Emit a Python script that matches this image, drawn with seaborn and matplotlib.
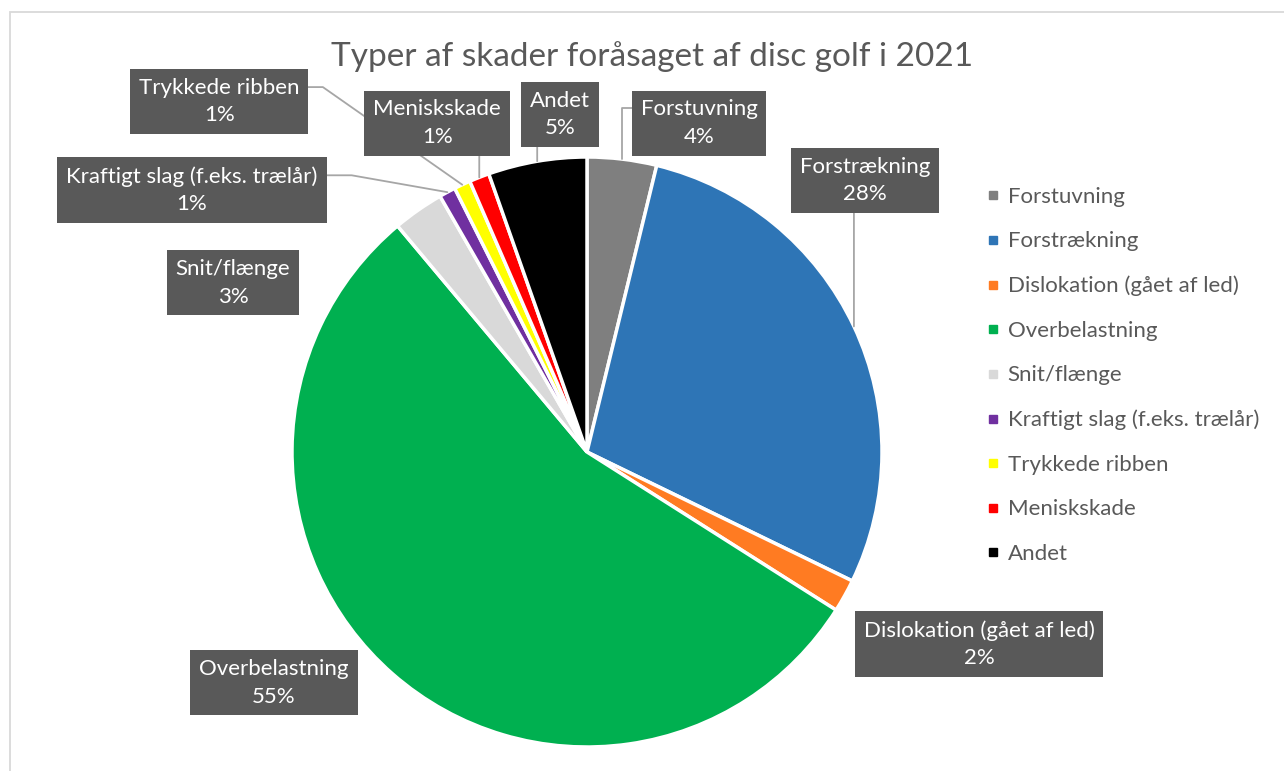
import matplotlib
matplotlib.use('Agg')
import matplotlib.pyplot as plt
from matplotlib.lines import Line2D
from matplotlib.patches import Rectangle
import numpy as np
import seaborn as sns

sns.set_theme(style='white')
plt.rcParams['font.family'] = ['Lato', 'DejaVu Sans']

# data
kategorier = ['Forstuvning', 'Forstrækning', 'Dislokation (gået af led)', 'Overbelastning',
              'Snit/flænge', 'Kraftigt slag (f.eks. trælår)', 'Trykkede ribben', 'Meniskskade', 'Andet']
andele = [3.8, 28.4, 1.8, 54.9, 2.8, 0.9, 0.9, 1.1, 5.4]
farver = ['#7F7F7F', '#2E75B6', '#FF7B22', '#00B050', '#D9D9D9',
          '#7030A0', '#FFFF00', '#FF0000', '#000000']
titel = 'Typer af skader foråsaget af disc golf i 2021'

# placering af etiketter (i pie-enheder, radius = 1) og type af hjælpestreg
label_pos = [(0.38, 1.115), (0.942, 0.919), (1.329, -0.651), (-1.061, -0.783), (-1.2, 0.573),
             (-1.339, 0.888), (-1.247, 1.187), (-0.508, 1.115), (-0.092, 1.143)]
leader = ['elbow', 'down', None, None, None, 'side', 'side', 'down', 'down']

tekst = '#595959'
streg = '#A6A6A6'
palette = sns.color_palette(farver)

fig = plt.figure(figsize=(12.84, 7.71), dpi=100)
W, H = 1284, 771
cx, cy, r = 587, 452, 295
ax = fig.add_axes([(cx - r) / W, (H - cy - r) / H, 2 * r / W, 2 * r / H])

wedges, _ = ax.pie(andele, colors=palette, startangle=90, counterclock=False, radius=1,
                   wedgeprops=dict(edgecolor='white', linewidth=2.5))
ax.set_xlim(-1, 1)
ax.set_ylim(-1, 1)
ax.set_aspect('equal')
ax.axis('off')

total = sum(andele)
start = 0
for i, (navn, v) in enumerate(zip(kategorier, andele)):
    mid = start + v / 2
    start += v
    ang = np.deg2rad(90 - mid / total * 360)
    px, py = np.cos(ang), np.sin(ang)
    lx, ly = label_pos[i]
    lab = f'{navn}\n{round(v / total * 100):.0f}%'
    ax.text(lx, ly, lab, ha='center', va='center', color='white', fontsize=16,
            linespacing=1.45, zorder=5,
            bbox=dict(boxstyle='square,pad=0.4', fc=tekst, ec='none'))
    # hjælpestreg tegnes under boksen
    if leader[i] == 'down':
        ax.annotate('', xy=(px, py), xytext=(px, ly), annotation_clip=False, zorder=2,
                    arrowprops=dict(arrowstyle='-', color=streg, lw=1.3,
                                    shrinkA=0, shrinkB=0))
    elif leader[i] == 'elbow':
        ax.annotate('', xy=(px, py), xytext=(lx, ly + 0.05), annotation_clip=False, zorder=2,
                    arrowprops=dict(arrowstyle='-', color=streg, lw=1.3,
                                    connectionstyle='angle,angleA=0,angleB=90,rad=0',
                                    shrinkA=0, shrinkB=0))
    elif leader[i] == 'side':
        vinkel = 145 if i == 6 else 170
        ax.annotate('', xy=(px, py), xytext=(lx, ly + 0.05), annotation_clip=False, zorder=2,
                    arrowprops=dict(arrowstyle='-', color=streg, lw=1.3,
                                    connectionstyle=f'angle,angleA=0,angleB={vinkel},rad=0',
                                    shrinkA=0, shrinkB=0))

fig.text(0.5 * (330 + 975) / W, 1 - 57 / H, titel, ha='center', va='center',
         fontsize=24, color=tekst)

handles = [Line2D([], [], ls='none', marker='s', markersize=6, color=c) for c in palette]
fig.legend(handles, kategorier, loc='upper left', bbox_to_anchor=(966 / W, 1 - 167 / H),
           frameon=False, fontsize=16, labelcolor=tekst, labelspacing=1.1,
           handlelength=0.6, handletextpad=0.37)

fig.patches.append(Rectangle((10 / W, -0.1), 1.0, 1.1 - 12 / H, transform=fig.transFigure,
                             fill=False, ec='#D9D9D9', lw=1.3))

fig.savefig('out.png', dpi=100)
